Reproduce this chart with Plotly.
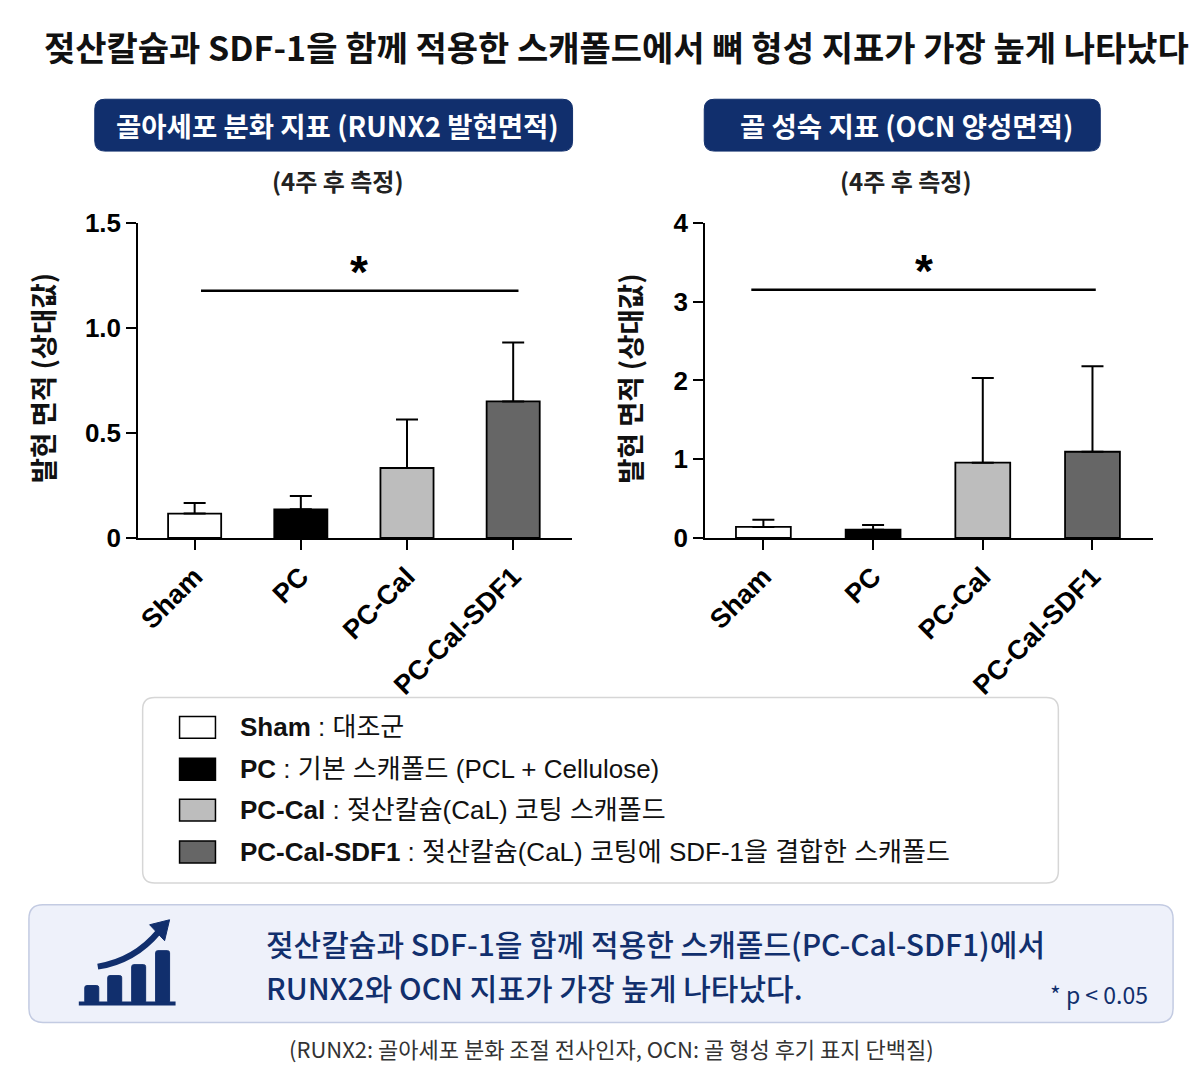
import plotly.graph_objects as go

W, H = 1200, 1074

# data
groups = ["Sham", "PC", "PC-Cal", "PC-Cal-SDF1"]
bar_colors = ["#ffffff", "#000000", "#bdbdbd", "#666666"]

runx2_mean = [0.116, 0.136, 0.333, 0.65]
runx2_err = [0.05, 0.064, 0.231, 0.28]
runx2_ticks = [0, 0.5, 1.0, 1.5]
runx2_ticktext = ["0", "0.5", "1.0", "1.5"]
runx2_sig = 1.177

ocn_mean = [0.14, 0.105, 0.955, 1.094]
ocn_err = [0.09, 0.06, 1.075, 1.086]
ocn_ticks = [0, 1, 2, 3, 4]
ocn_ticktext = ["0", "1", "2", "3", "4"]
ocn_sig = 3.15

legend_desc = ["대조군", "기본 스캐폴드 (PCL + Cellulose)",
               "젖산칼슘(CaL) 코팅 스캐폴드",
               "젖산칼슘(CaL) 코팅에 SDF-1을 결합한 스캐폴드"]

KR = "Noto Sans CJK KR"
LAT = "Liberation Sans, Noto Sans CJK KR"
NAVY = "#112f6d"


def px(x):
    return x / W


def py(y):
    # the captured page came out squeezed a little in height, so pre-stretch
    return 1 - ((y - 13.5) / 0.975) / H


def rrect(x0, y0, x1, y1, r):
    pts = [
        f"M {px(x0 + r)},{py(y0)}",
        f"L {px(x1 - r)},{py(y0)}",
        f"Q {px(x1)},{py(y0)} {px(x1)},{py(y0 + r)}",
        f"L {px(x1)},{py(y1 - r)}",
        f"Q {px(x1)},{py(y1)} {px(x1 - r)},{py(y1)}",
        f"L {px(x0 + r)},{py(y1)}",
        f"Q {px(x0)},{py(y1)} {px(x0)},{py(y1 - r)}",
        f"L {px(x0)},{py(y0 + r)}",
        f"Q {px(x0)},{py(y0)} {px(x0 + r)},{py(y0)}",
        "Z",
    ]
    return " ".join(pts)


def label(x, y, text, size, color="#111", family=KR, xanchor="center", **kw):
    return dict(x=px(x), y=py(y), xref="paper", yref="paper", text=text,
                showarrow=False, xanchor=xanchor, yanchor="middle",
                font=dict(family=family, size=size, color=color, **kw))


fig = go.Figure()

for mean, err, xa, ya in [(runx2_mean, runx2_err, "x", "y"),
                          (ocn_mean, ocn_err, "x2", "y2")]:
    fig.add_trace(go.Bar(
        x=groups, y=mean, width=0.5, xaxis=xa, yaxis=ya,
        marker=dict(color=bar_colors, line=dict(color="black", width=1.8)),
        error_y=dict(type="data", symmetric=False, array=err,
                     arrayminus=[0] * len(err), color="black",
                     thickness=2, width=11),
        showlegend=False, hoverinfo="skip",
    ))

axis_common = dict(
    showline=True, linecolor="black", linewidth=2.2, ticks="outside",
    ticklen=10, tickwidth=2, tickcolor="black", showgrid=False,
    zeroline=False, mirror=False,
)
xcommon = dict(axis_common, type="category", tickangle=-45,
               tickfont=dict(family=LAT, size=27, color="black", weight="bold"))
yfont = dict(family=LAT, size=26, color="black", weight="bold")

fig.update_layout(
    width=W, height=H, margin=dict(l=0, r=0, t=0, b=0),
    paper_bgcolor="white", plot_bgcolor="white",
    xaxis=dict(xcommon, domain=[px(135.7), px(570)], range=[-0.53, 3.55],
               anchor="y"),
    xaxis2=dict(xcommon, domain=[px(704), px(1152.7)], range=[-0.53, 3.55],
                anchor="y2"),
    yaxis=dict(axis_common, domain=[py(538), py(222)], range=[0, 1.5],
               tickvals=runx2_ticks, ticktext=runx2_ticktext, anchor="x",
               tickfont=yfont),
    yaxis2=dict(axis_common, domain=[py(538), py(222)], range=[0, 4],
                tickvals=ocn_ticks, ticktext=ocn_ticktext, anchor="x2",
                tickfont=yfont),
)

shapes = []
ann = []

# significance bars
shapes.append(dict(type="line", xref="x", yref="y", x0=0.06, x1=3.05,
                   y0=runx2_sig, y1=runx2_sig,
                   line=dict(color="black", width=2.5)))
shapes.append(dict(type="line", xref="x2", yref="y2", x0=-0.11, x1=3.03,
                   y0=ocn_sig, y1=ocn_sig,
                   line=dict(color="black", width=2.5)))
ann.append(dict(x=1.55, y=runx2_sig, xref="x", yref="y", text="<b>*</b>",
                showarrow=False, yanchor="bottom", yshift=-9,
                font=dict(family=LAT, size=46, color="black")))
ann.append(dict(x=1.46, y=ocn_sig, xref="x2", yref="y2", text="<b>*</b>",
                showarrow=False, yanchor="bottom", yshift=-9,
                font=dict(family=LAT, size=46, color="black")))

# y-axis titles
for xc in [40, 628]:
    a = label(xc, 378, "<b>발현 면적 (상대값)</b>", 27.5)
    a["textangle"] = -90
    ann.append(a)

# main title
ann.append(label(615, 45,
                 "<b>젖산칼슘과 SDF-1을 함께 적용한 스캐폴드에서 뼈 형성 지표가 가장 높게 나타났다</b>",
                 34))

# panel headers
for (x0, x1, head) in [(92, 571, "골아세포 분화 지표 (RUNX2 발현면적)"),
                       (703, 1100, "골 성숙 지표 (OCN 양성면적)")]:
    shapes.append(dict(type="path", xref="paper", yref="paper",
                       path=rrect(x0, 98, x1, 150, 10),
                       fillcolor=NAVY, line=dict(color=NAVY, width=1)))
    ann.append(label((x0 + x1) / 2 + 4, 124, f"<b>{head}</b>", 27.5, color="white"))
    ann.append(label((x0 + x1) / 2 + 4, 180, "<b>(4주 후 측정)</b>", 24, color="#222"))

# legend box
shapes.append(dict(type="path", xref="paper", yref="paper",
                   path=rrect(140, 698, 1058, 884, 12),
                   fillcolor="white", line=dict(color="#d6d6d6", width=1.5)))
row_y = [728, 770, 811, 853]
for name, col, desc, yy in zip(groups, bar_colors, legend_desc, row_y):
    shapes.append(dict(type="rect", xref="paper", yref="paper",
                       x0=px(177), x1=px(213), y0=py(yy - 11), y1=py(yy + 11),
                       fillcolor=col, line=dict(color="black", width=1.5)))
    ann.append(label(236, yy, f"<b>{name}</b> : {desc}", 26, family=LAT,
                     xanchor="left"))

# summary box
shapes.append(dict(type="path", xref="paper", yref="paper",
                   path=rrect(26, 906, 1173, 1024, 14),
                   fillcolor="#eef1fa", line=dict(color="#c3cbe2", width=1.5)))
ann.append(label(262, 944, "젖산칼슘과 SDF-1을 함께 적용한 스캐폴드(PC-Cal-SDF1)에서",
                 30, color=NAVY, xanchor="left", weight=500))
ann.append(label(262, 988, "RUNX2와 OCN 지표가 가장 높게 나타났다.",
                 30, color=NAVY, xanchor="left", weight=500))
ann.append(label(1150, 995, "* p &lt; 0.05", 23, color=NAVY, xanchor="right"))

# icon
for (x0, x1, top) in [(82, 96, 987), (105, 119, 977), (129, 143, 966), (153, 167, 952)]:
    shapes.append(dict(type="path", xref="paper", yref="paper",
                       path=rrect(x0, top, x1, 1005, 2),
                       fillcolor=NAVY, line=dict(color=NAVY, width=1)))
shapes.append(dict(type="line", xref="paper", yref="paper",
                   x0=px(76), x1=px(173), y0=py(1005), y1=py(1005),
                   line=dict(color=NAVY, width=4)))
shapes.append(dict(type="path", xref="paper", yref="paper",
                   path=f"M {px(95)},{py(968)} Q {px(132)},{py(962)} {px(156)},{py(933)}",
                   line=dict(color=NAVY, width=6)))
shapes.append(dict(type="path", xref="paper", yref="paper",
                   path=(f"M {px(167)},{py(921)} L {px(147)},{py(926)} "
                         f"L {px(162)},{py(942)} Z"),
                   fillcolor=NAVY, line=dict(color=NAVY, width=1)))

# footnote
ann.append(label(610, 1050,
                 "(RUNX2: 골아세포 분화 조절 전사인자, OCN: 골 형성 후기 표지 단백질)",
                 22, color="#333"))

fig.update_layout(shapes=shapes, annotations=ann)

pin_to_corner = (
    "document.body.style.margin='0px';"
    "document.documentElement.style.overflow='hidden';"
    "var d=document.getElementById('{plot_id}');"
    "d.style.position='fixed';d.style.left='0px';d.style.top='0px';"
)
fig.write_html("out.html", config={"displayModeBar": False},
               post_script=pin_to_corner)
